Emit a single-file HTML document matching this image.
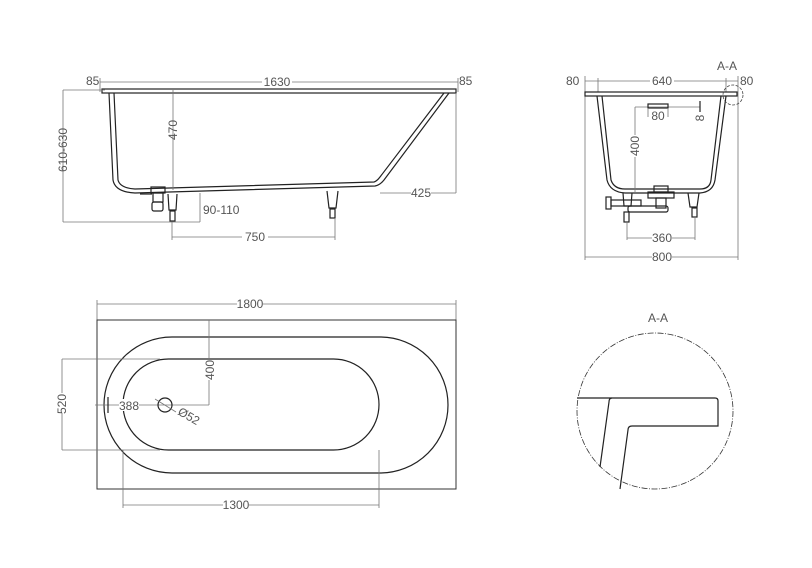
<!DOCTYPE html>
<html><head><meta charset="utf-8"><style>
html,body{margin:0;padding:0;background:#fff}
svg{display:block}
text{font-family:"Liberation Sans",sans-serif;font-size:12px;fill:#555}
.d{stroke:#777;stroke-width:0.8;fill:none}
.o{stroke:#222;stroke-width:1.2;fill:none}
.w{fill:#fff}
</style></head><body>
<svg width="812" height="568" viewBox="0 0 812 568" xmlns="http://www.w3.org/2000/svg">
<g>
<line class="d" x1="100" y1="82" x2="458" y2="82"/>
<line class="d" x1="100" y1="78" x2="100" y2="92"/><line class="d" x1="458" y1="78" x2="458" y2="92"/>
<rect x="262" y="76" width="30" height="12" class="w"/>
<text x="277" y="86" text-anchor="middle">1630</text>
<text x="86" y="85">85</text><text x="459" y="85">85</text>
<rect x="102" y="89" width="354" height="4" class="o"/>
<path class="o" d="M109 93 L113 180 Q115 192 135 193 L375 186 Q380 185 384 180 L449 93"/>
<path class="o" d="M114 93 L118 180 Q120 188 135 189 L374 182 Q377 181 380 177 L444 93"/>
<line class="d" x1="63" y1="90" x2="63" y2="222"/><line class="d" x1="63" y1="90" x2="105" y2="90"/>
<line class="d" x1="63" y1="222" x2="200" y2="222"/>
<text transform="translate(67,150) rotate(-90)" text-anchor="middle">610-630</text>
<line class="d" x1="173" y1="90" x2="173" y2="190"/>
<text transform="translate(177,130) rotate(-90)" text-anchor="middle">470</text>
<line class="d" x1="456" y1="93" x2="456" y2="193"/>
<line class="d" x1="380" y1="193" x2="456" y2="193"/>
<rect x="411" y="187" width="20" height="12" class="w"/>
<text x="421" y="197" text-anchor="middle">425</text>
<rect x="151" y="187" width="14" height="6" class="o"/>
<rect x="153" y="193" width="10" height="9" class="o"/>
<rect x="152" y="202" width="11" height="9" rx="2" class="o"/>
<line class="o" x1="140" y1="194" x2="152" y2="194"/>
<path class="o" d="M168 194 L169 210 L176 210 L177 194"/><rect x="170" y="211" width="5" height="10" class="o"/>
<path class="o" d="M327 191 L329 208 L336 208 L338 191"/><rect x="330" y="209" width="5" height="9" class="o"/>
<line class="d" x1="200" y1="193" x2="200" y2="222"/>
<text x="203" y="214" font-size="13">90-110</text>
<line class="d" x1="172" y1="222" x2="172" y2="240"/><line class="d" x1="335" y1="218" x2="335" y2="240"/>
<line class="d" x1="172" y1="237" x2="335" y2="237"/>
<rect x="242" y="231" width="26" height="12" class="w"/>
<text x="255" y="241" text-anchor="middle">750</text>
</g>
<g>
<text x="717" y="70" font-size="13" fill="#333">A-A</text>
<line class="d" x1="585" y1="81" x2="738" y2="81"/>
<line class="d" x1="585" y1="76" x2="585" y2="260"/><line class="d" x1="738" y1="76" x2="738" y2="260"/>
<line class="d" x1="598" y1="78" x2="598" y2="92"/><line class="d" x1="726" y1="78" x2="726" y2="92"/>
<text x="566" y="85">80</text><text x="740" y="85">80</text>
<rect x="650" y="75" width="24" height="12" class="w"/>
<text x="662" y="85" text-anchor="middle">640</text>
<rect x="585" y="92" width="152" height="4" class="o"/>
<path class="o" d="M597 96 L607 180 Q610 192 625 193 L700 193 Q713 192 715 180 L726 96"/>
<path class="o" d="M602 96 L611 180 Q614 189 625 189 L700 189 Q710 189 711 180 L721 96"/>
<circle cx="733" cy="95" r="10" fill="none" stroke="#444" stroke-width="0.8" stroke-dasharray="3,1.5"/>
<line class="d" x1="635" y1="107" x2="700" y2="107"/>
<line class="d" x1="635" y1="107" x2="635" y2="193"/>
<rect x="631" y="135" width="9" height="22" class="w"/>
<text transform="translate(639,146) rotate(-90)" text-anchor="middle">400</text>
<rect x="648" y="104" width="20" height="4" class="o"/>
<line class="d" x1="648" y1="108" x2="648" y2="117"/><line class="d" x1="668" y1="108" x2="668" y2="117"/>
<text x="658" y="120" text-anchor="middle">80</text>
<line class="o" x1="700" y1="101" x2="700" y2="112"/>
<text transform="translate(704,118) rotate(-90)" text-anchor="middle">8</text>
<rect x="654" y="186" width="14" height="6" class="o"/>
<rect x="648" y="192" width="26" height="6" class="o"/>
<rect x="656" y="198" width="10" height="10" class="o"/>
<rect x="628" y="206" width="40" height="6" rx="2" class="o"/>
<rect x="606" y="197" width="5" height="12" class="o"/>
<rect x="611" y="200" width="30" height="6" class="o"/>
<path class="o" d="M623 193 L624 206 L631 206 L632 193"/><rect x="624" y="212" width="5" height="10" class="o"/>
<path class="o" d="M688 193 L690 207 L697 207 L699 193"/><rect x="692" y="208" width="5" height="9" class="o"/>
<line class="d" x1="627" y1="222" x2="627" y2="240"/><line class="d" x1="695" y1="217" x2="695" y2="240"/>
<line class="d" x1="627" y1="238" x2="695" y2="238"/>
<rect x="652" y="232" width="20" height="12" class="w"/>
<text x="662" y="242" text-anchor="middle">360</text>
<line class="d" x1="585" y1="257" x2="738" y2="257"/>
<rect x="652" y="251" width="20" height="12" class="w"/>
<text x="662" y="261" text-anchor="middle">800</text>
</g>
<g>
<line class="d" x1="97" y1="304" x2="456" y2="304"/>
<line class="d" x1="97" y1="300" x2="97" y2="320"/><line class="d" x1="456" y1="300" x2="456" y2="320"/>
<rect x="237" y="298" width="26" height="12" class="w"/>
<text x="250" y="308" text-anchor="middle">1800</text>
<rect x="97" y="320" width="359" height="169" fill="none" stroke="#333" stroke-width="1"/>
<rect x="104" y="337" width="344" height="136" rx="68" ry="68" class="o"/>
<rect x="123" y="359" width="256" height="91" rx="45.5" ry="45.5" class="o"/>
<line class="d" x1="62" y1="359" x2="160" y2="359"/><line class="d" x1="62" y1="450" x2="160" y2="450"/>
<line class="d" x1="62" y1="359" x2="62" y2="450"/>
<rect x="57" y="393" width="10" height="20" class="w"/>
<text transform="translate(66,404) rotate(-90)" text-anchor="middle">520</text>
<line class="d" x1="209" y1="320" x2="209" y2="405"/>
<rect x="205" y="360" width="10" height="20" class="w"/>
<text transform="translate(214,370) rotate(-90)" text-anchor="middle">400</text>
<line class="d" x1="95" y1="405" x2="209" y2="405"/>
<line x1="108" y1="397" x2="108" y2="413" stroke="#222" stroke-width="1.2"/>
<rect x="119" y="399" width="20" height="12" class="w"/>
<text x="129" y="410" text-anchor="middle">388</text>
<circle cx="165" cy="405" r="7" class="o"/>
<line class="d" x1="155" y1="399" x2="176" y2="412"/>
<text transform="translate(177,414) rotate(30)">Ø52</text>
<line class="d" x1="123" y1="450" x2="123" y2="508"/><line class="d" x1="379" y1="450" x2="379" y2="508"/>
<line class="d" x1="123" y1="505" x2="379" y2="505"/>
<rect x="223" y="499" width="26" height="12" class="w"/>
<text x="236" y="509" text-anchor="middle">1300</text>
</g>
<g>
<text x="658" y="322" text-anchor="middle" font-size="13" fill="#333">A-A</text>
<circle cx="655" cy="411" r="78" fill="none" stroke="#333" stroke-width="0.8" stroke-dasharray="6,1.5,1,1.5"/>
<path class="o" d="M577 398 L715 398 Q718 398 718 401 L718 426 L632 426 Q628 426 628 430 L620 489"/>
<path class="o" d="M612 398 Q609 398 609 402 L600 467"/>
</g>
</svg>
</body></html>
